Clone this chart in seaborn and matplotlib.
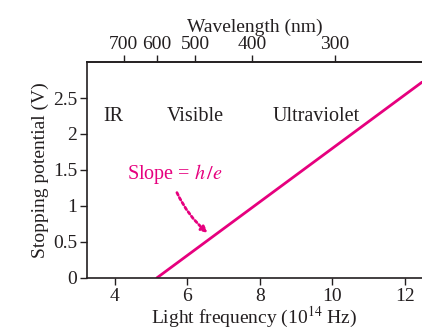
import numpy as np
import pandas as pd
import matplotlib
matplotlib.use("Agg")
import matplotlib.pyplot as plt
import seaborn as sns

# Data
frequency = [5.16, 12.47]          # 10^14 Hz
stopping_potential = [0.0, 2.72]   # V
wavelength_labels = ["700", "600", "500", "400", "300"]   # nm
wavelength_tick_freq = [4.24, 5.15, 6.21, 7.78, 10.06]    # where they sit on the frequency axis
x_ticks = [4, 6, 8, 10, 12]
y_ticks = [0, 0.5, 1, 1.5, 2, 2.5]
y_ticklabels = ["0", "0.5", "1", "1.5", "2", "2.5"]
regions = ["IR", "Visible", "Ultraviolet"]
region_x = [3.97, 6.23, 9.55]

sns.set_style("ticks")
plt.rcParams["font.family"] = ["Liberation Serif", "DejaVu Serif"]
plt.rcParams["mathtext.fontset"] = "stix"

magenta = "#E6007E"
dark = "#231F20"
FS = 14.5
FSL = 14

fig = plt.figure(figsize=(4.22, 3.3), dpi=100)
ax = fig.add_axes([0.206, 0.158, 0.794, 0.654])

df = pd.DataFrame({"f": frequency, "V": stopping_potential})
sns.lineplot(data=df, x="f", y="V", ax=ax, color=magenta, lw=2.0)

ax.set_xlim(3.23, 12.47)
ax.set_ylim(0, 3.0)
ax.set_xticks(x_ticks)
ax.set_yticks(y_ticks)
ax.set_yticklabels(y_ticklabels)
ax.tick_params(axis="both", labelsize=FSL, colors=dark, length=5, width=1, pad=2)
ax.set_xlabel("Light frequency (10$^{14}$ Hz)", fontsize=FSL, color=dark, labelpad=0)
ax.set_ylabel("Stopping potential (V)", fontsize=FSL, color=dark, labelpad=3)

for s in ["left", "bottom", "top"]:
    ax.spines[s].set_visible(True)
    ax.spines[s].set_color(dark)
    ax.spines[s].set_linewidth(1.2)
ax.spines["right"].set_visible(False)

top = ax.twiny()
top.set_xlim(ax.get_xlim())
top.set_xticks(wavelength_tick_freq)
top.set_xticklabels(wavelength_labels)
top.tick_params(axis="x", labelsize=FSL, colors=dark, length=5, width=1, pad=1.5)
top.set_xlabel("Wavelength (nm)", fontsize=FSL, color=dark, labelpad=3)
for s in ["left", "bottom", "right"]:
    top.spines[s].set_visible(False)
top.spines["top"].set_color(dark)
top.spines["top"].set_linewidth(1.2)

for name, x in zip(regions, region_x):
    ax.text(x, 2.24, name, fontsize=FS, color=dark, ha="center", va="center")

ax.text(5.65, 1.45, "Slope = $h\\,/e$", fontsize=FS, color=magenta, ha="center", va="center")
ax.annotate("", xy=(6.62, 0.6), xytext=(5.68, 1.22),
            arrowprops=dict(arrowstyle="-|>", color=magenta, lw=2, linestyle=(0, (1, 1.0)),
                            connectionstyle="arc3,rad=0.12", mutation_scale=9))

fig.savefig("out.png", dpi=100)
